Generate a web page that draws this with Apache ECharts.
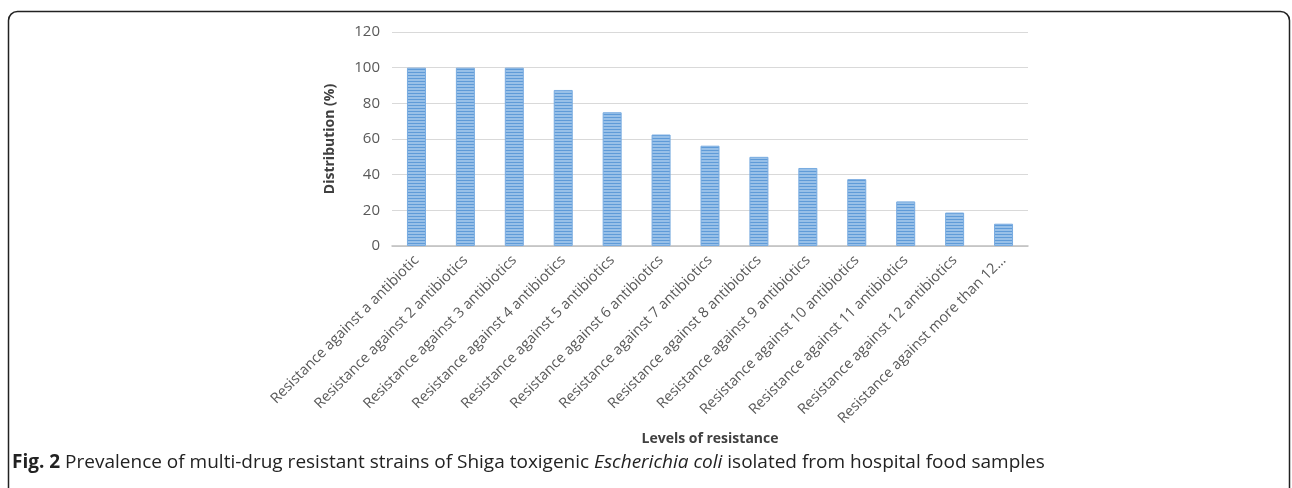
<!DOCTYPE html>
<html>
<head>
<meta charset="utf-8">
<script src="https://cdn.jsdelivr.net/npm/echarts@6/dist/echarts.min.js"></script>
<style>
html, body { margin: 0; padding: 0; background: #fff; }
#main { width: 1292px; height: 488px; }
</style>
</head>
<body>
<div id="main"></div>
<script>
var categories = [
	'Resistance against a antibiotic',
	'Resistance against 2 antibiotics',
	'Resistance against 3 antibiotics',
	'Resistance against 4 antibiotics',
	'Resistance against 5 antibiotics',
	'Resistance against 6 antibiotics',
	'Resistance against 7 antibiotics',
	'Resistance against 8 antibiotics',
	'Resistance against 9 antibiotics',
	'Resistance against 10 antibiotics',
	'Resistance against 11 antibiotics',
	'Resistance against 12 antibiotics',
	'Resistance against more than 12\u2026'
];
var distribution = [100, 100, 100, 87.5, 75, 62.5, 56.25, 50, 43.75, 37.5, 25, 18.75, 12.5];
var yTicks = [0, 20, 40, 60, 80, 100, 120];

// 横条纹填充
function stripePattern() {
	var c = document.createElement('canvas');
	c.width = 4;
	c.height = 3;
	var ctx = c.getContext('2d');
	ctx.fillStyle = '#98c0e8';
	ctx.fillRect(0, 0, 4, 3);
	ctx.fillStyle = '#5f9bd8';
	ctx.fillRect(0, 0, 4, 1);
	return c;
}

var myChart = echarts.init(document.getElementById('main'));
var option = {
	backgroundColor: '#fff',
	animation: false,
	textStyle: { fontFamily: 'Open Sans' },
	grid: { left: 392, right: 264, top: 32, bottom: 242, containLabel: false },
	xAxis: {
		type: 'category',
		data: categories,
		name: 'Levels of resistance',
		nameLocation: 'middle',
		nameGap: 186,
		nameTextStyle: { fontWeight: 'bold', fontSize: 14, color: '#404040' },
		axisTick: { show: false },
		axisLine: { lineStyle: { color: '#bfbfbf', width: 1.5 } },
		axisLabel: { rotate: 45, interval: 0, fontSize: 14.5, color: '#595959', margin: 12 }
	},
	yAxis: {
		type: 'value',
		min: yTicks[0],
		max: yTicks[yTicks.length - 1],
		interval: 20,
		name: 'Distribution (%)',
		nameLocation: 'middle',
		nameGap: 55,
		nameTextStyle: { fontWeight: 'bold', fontSize: 14, color: '#404040' },
		axisLine: { show: false },
		axisTick: { show: false },
		axisLabel: { fontSize: 15, color: '#595959', margin: 12 },
		splitLine: { lineStyle: { color: '#d9d9d9', width: 1 } }
	},
	series: [{
		type: 'bar',
		data: distribution,
		barWidth: 19,
		itemStyle: {
			color: { image: stripePattern(), repeat: 'repeat' },
			borderColor: '#78abe0',
			borderWidth: 1
		}
	}],
	graphic: [
		{
			type: 'rect',
			shape: { x: 8.5, y: 11.5, width: 1281, height: 520, r: 9 },
			style: { fill: 'none', stroke: '#222', lineWidth: 1.5 }
		},
		{
			type: 'text',
			left: 12,
			top: 453,
			style: {
				text: '{b|Fig. 2} Prevalence of multi-drug resistant strains of Shiga toxigenic {i|Escherichia coli} isolated from hospital food samples',
				font: '19px "Open Sans"',
				fill: '#222',
				rich: {
					b: { fontWeight: 'bold', fontSize: 19, fontFamily: 'Open Sans', fill: '#222' },
					i: { fontStyle: 'italic', fontSize: 19, fontFamily: 'Open Sans', fill: '#222' }
				}
			}
		}
	]
};
myChart.setOption(option);
</script>
</body>
</html>
